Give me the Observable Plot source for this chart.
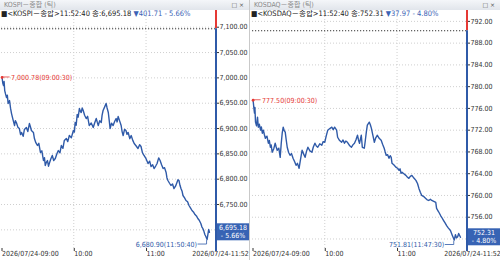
<!DOCTYPE html>
<html><head><meta charset="utf-8">
<script src="https://cdn.jsdelivr.net/npm/d3@7"></script>
<script src="https://cdn.jsdelivr.net/npm/@observablehq/plot@0.6"></script>
<style>
html,body{margin:0;padding:0;background:#fff;}
body{width:500px;height:260px;overflow:hidden;font-family:"Liberation Sans Narrow","DejaVu Sans Condensed","Noto Sans CJK KR",sans-serif;}
#wrap{display:flex;width:500px;height:260px;}
.panel{position:relative;height:260px;overflow:hidden;}
#p0{width:249px;border-right:1px solid #c9c9c9;}
#p1{width:250px;}
.tbar{position:absolute;left:0;top:0;right:0;height:10px;background:linear-gradient(#f4f6f9,#e1e5eb);z-index:3;}
.tbar .tt{position:absolute;left:4px;top:0;font-size:7px;line-height:10px;color:#8a8a8a;white-space:nowrap;}
.tbar .ic{position:absolute;right:5px;top:0;font-family:"DejaVu Sans",sans-serif;font-size:6px;line-height:10px;color:#555;white-space:nowrap;}
.info{position:absolute;left:1px;top:10px;font-size:7.5px;line-height:8px;color:#222;white-space:nowrap;z-index:2;}
.info .dn{color:#3b63b5;}
svg{display:block;}
</style></head>
<body>
<div id="wrap">
  <div class="panel" id="p0"></div>
  <div class="panel" id="p1"></div>
</div>
<script>
// ---------- data ----------
const kospiTimes = ["09:00:30","09:01:00","09:01:40","09:02:10","09:02:40","09:03:20","09:04:10","09:04:50","09:05:30","09:06:40",
"09:07:30","09:08:20","09:09:30","09:10:50","09:11:30","09:12:20","09:13:40","09:14:50","09:15:50","09:16:40",
"09:18:00","09:19:00","09:20:40","09:21:50","09:23:10","09:24:00","09:24:50","09:26:30","09:27:20","09:28:30",
"09:29:50","09:31:00","09:32:20","09:33:30","09:34:50","09:35:40","09:36:20","09:37:20","09:38:10","09:39:00",
"09:39:40","09:41:00","09:42:10","09:43:20","09:44:40","09:46:00","09:47:10","09:48:30","09:49:40","09:51:00",
"09:52:10","09:53:50","09:55:00","09:56:20","09:58:00","09:59:40","10:00:30","10:01:10","10:02:00","10:02:50",
"10:03:40","10:04:40","10:05:30","10:06:10","10:07:00","10:07:50","10:09:00","10:10:20","10:11:30","10:12:50",
"10:14:30","10:16:10","10:17:20","10:18:40","10:19:30","10:20:20","10:21:30","10:22:50","10:23:30","10:24:20",
"10:25:40","10:26:50","10:27:40","10:28:40","10:29:20","10:30:10","10:31:20","10:32:40","10:34:00","10:35:10",
"10:36:00","10:36:50","10:38:00","10:39:20","10:40:10","10:41:00","10:42:10","10:43:20","10:44:10","10:45:10",
"10:46:30","10:47:40","10:49:00","10:50:10","10:51:40","10:53:20","10:54:40","10:55:50","10:57:00","10:58:20",
"11:00:00","11:01:40","11:03:00","11:04:10","11:05:30","11:06:40","11:08:00","11:09:10","11:10:30","11:11:40",
"11:13:00","11:14:10","11:15:20","11:16:40","11:17:20","11:18:10","11:19:30","11:20:40","11:22:00","11:23:10",
"11:24:30","11:25:40","11:26:30","11:27:20","11:28:10","11:29:00","11:30:00","11:30:40","11:32:00","11:33:10",
"11:34:30","11:35:40","11:37:00","11:38:10","11:39:20","11:40:40","11:41:50","11:43:00","11:44:10","11:45:30",
"11:46:20","11:47:10","11:48:00","11:48:50","11:49:50","11:50:40","11:51:20","11:52:00","11:52:40"];
const kospiValues = [7000.78,6990.5,6984.9,6993.0,6975.0,6968.4,6961.2,6966.0,6949.4,6955.3,
6940.2,6929.6,6918.0,6905.9,6915.5,6911.9,6902.3,6900.0,6888.0,6892.2,
6884.6,6898.1,6902.0,6894.0,6909.9,6903.5,6896.1,6892.2,6880.3,6872.0,
6866.5,6870.8,6852.7,6856.0,6836.9,6842.5,6827.0,6833.8,6836.9,6825.6,
6831.0,6840.2,6846.8,6837.0,6840.8,6850.3,6856.6,6852.0,6866.5,6861.0,
6876.4,6880.3,6874.2,6886.2,6882.0,6896.1,6893.0,6911.9,6906.5,6927.7,
6922.4,6939.5,6934.0,6931.6,6940.5,6935.6,6926.3,6919.8,6924.1,6906.0,
6910.8,6902.0,6911.0,6919.8,6912.6,6906.0,6915.2,6911.9,6926.0,6935.6,
6942.8,6949.4,6940.6,6931.6,6918.0,6900.0,6910.4,6906.0,6914.3,6919.8,
6913.0,6923.7,6915.6,6906.0,6893.5,6886.2,6898.4,6896.1,6888.7,6892.2,
6880.0,6886.2,6876.6,6870.4,6866.0,6860.6,6868.2,6864.5,6852.4,6846.8,
6840.5,6831.0,6835.6,6825.1,6828.4,6821.1,6826.0,6831.0,6842.0,6836.9,
6828.0,6821.1,6822.8,6813.2,6803.0,6797.4,6792.0,6787.6,6790.4,6781.6,
6786.2,6793.5,6799.0,6797.4,6788.0,6781.6,6775.5,6767.8,6763.0,6758.0,
6755.4,6748.1,6742.7,6738.2,6735.4,6730.3,6727.5,6722.4,6719.0,6712.5,
6706.0,6702.7,6697.5,6690.8,6686.0,6680.90,6690.8,6700.7,6695.18];

const kosdaqTimes = ["09:00:30","09:01:10","09:01:40","09:02:00","09:02:30","09:03:20","09:04:10","09:04:50","09:05:40","09:06:40",
"09:07:20","09:08:10","09:09:00","09:09:50","09:10:40","09:12:00","09:13:10","09:14:00","09:14:50","09:15:30",
"09:16:20","09:17:40","09:18:50","09:19:40","09:20:30","09:21:50","09:23:00","09:23:50","09:24:40","09:25:30",
"09:26:20","09:27:10","09:28:00","09:28:50","09:30:00","09:31:10","09:32:20","09:33:40","09:35:00","09:36:10",
"09:37:20","09:38:40","09:39:50","09:41:10","09:42:30","09:43:40","09:44:50","09:46:00","09:47:40","09:49:20",
"09:50:30","09:51:50","09:53:00","09:54:10","09:55:50","09:57:30","09:58:40","10:00:00","10:01:10","10:02:30",
"10:04:10","10:05:50","10:07:00","10:08:10","10:09:50","10:10:40","10:12:20","10:14:00","10:15:10","10:16:20",
"10:17:30","10:18:50","10:20:30","10:22:10","10:23:20","10:24:40","10:26:00","10:27:10","10:28:00","10:28:50",
"10:30:20","10:31:10","10:32:50","10:33:40","10:34:30","10:35:20","10:37:00","10:37:50","10:38:40","10:40:00",
"10:41:10","10:42:20","10:43:40","10:45:10","10:46:50","10:48:00","10:49:20","10:50:10","10:51:00","10:52:10",
"10:53:20","10:54:20","10:55:10","10:55:50","10:57:30","10:59:10","11:00:30","11:01:40","11:02:30","11:03:20",
"11:04:10","11:05:40","11:07:20","11:08:30","11:09:50","11:11:00","11:12:20","11:14:00","11:15:40","11:17:00",
"11:18:10","11:19:20","11:20:30","11:22:10","11:23:50","11:25:00","11:26:20","11:27:40","11:28:50","11:30:30",
"11:32:10","11:32:50","11:34:30","11:36:10","11:37:20","11:38:40","11:40:00","11:41:10","11:42:40","11:44:20",
"11:45:50","11:47:30","11:48:30","11:49:20","11:50:20","11:51:10","11:52:40"];
const kosdaqValues = [777.50,776.06,775.13,776.2,773.47,772.8,774.39,772.55,773.1,772.00,
772.6,771.44,772.00,771.2,770.52,770.9,769.60,770.1,768.86,769.3,
767.94,768.6,769.60,768.9,768.31,768.7,767.01,769.5,771.44,772.55,
771.9,771.63,770.2,768.86,767.9,767.38,767.7,766.83,766.2,765.54,
765.9,764.99,766.6,768.31,767.6,767.01,768.1,768.86,768.2,767.94,
768.9,769.60,769.1,768.86,769.5,769.23,769.9,769.78,770.9,772.00,
772.3,772.55,772.1,772.55,772.00,770.70,770.1,769.78,770.2,769.60,
770.0,769.78,769.2,768.86,769.3,769.60,770.3,771.07,770.2,769.60,
771.07,768.86,768.68,770.1,771.63,772.92,773.47,773.0,772.37,771.0,
769.78,770.6,771.07,770.5,770.15,769.4,768.68,768.0,767.38,767.5,
766.83,767.3,767.01,765.91,765.6,765.17,765.0,764.62,764.9,764.06,
764.25,764.0,763.69,763.4,763.14,763.5,763.69,763.2,762.77,762.2,
761.30,760.6,760.00,759.8,759.45,759.2,759.08,759.3,759.08,758.9,
758.71,757.61,757.0,756.31,755.9,755.39,754.9,754.47,754.0,753.55,
752.7,751.81,752.80,752.2,752.40,753.00,752.31];

const kospiPrevClose = 7096.89;
const kosdaqPrevClose = 790.28;
const kospiGridTicks = [6700,6750,6800,6850,6900,6950,7000,7050,7100];
const kospiLabelTicks = [6750,6800,6850,6900,6950,7000,7050,7100];
const kosdaqGridTicks = [752,756,760,764,768,772,776,780,784,788,792];
const kosdaqLabelTicks = [756,760,764,768,772,776,780,784,788,792];
const xTickTimes = ["09:00:00","10:00:00","11:00:00"];
const xTickLabels = ["2026/07/24-09:00","10:00","11:00"];
const lastTimeLabel = "2026/07/24-11:52";
const sessionStart = "09:00:00";
const sessionViewEnd = "11:58:30";
const titles = ["KOSPI－종합 (틱)","KOSDAQ－종합 (틱)"];
const infoMain = ["■<KOSPI－종합>11:52:40 종:6,695.18 ","■<KOSDAQ－종합>11:52:40 종:752.31 "];
const infoChange = ["▼401.71  - 5.66%","▼37.97  - 4.80%"];
const boxLines = [["6,695.18","- 5.66%"],["752.31","- 4.80%"]];

// ---------- helpers ----------
const toDate = s => { const [h,m,sec] = s.split(":").map(Number); return new Date(Date.UTC(2026,6,24,h,m,sec)); };
const RED = "#e53935", BLUE = "#2f5aa8", BOXBLUE = "#3763b4";
const FONT = '"Liberation Sans Narrow","DejaVu Sans Condensed","Noto Sans CJK KR",sans-serif';

function span(parent, cls, txt) {
  const s = document.createElement("span");
  if (cls) s.className = cls;
  s.textContent = txt;
  parent.appendChild(s);
  return s;
}

function panel(el, idx, cfg) {
  const rows = cfg.times.map((t,i) => ({t: toDate(t), v: cfg.values[i]}));
  const maxRow = rows.reduce((a,b) => b.v > a.v ? b : a);
  const minRow = rows.reduce((a,b) => b.v < a.v ? b : a);
  const last = rows[rows.length-1];
  const fmt = d3.format(",.2f");
  const hms = d3.utcFormat("%H:%M:%S");
  const xTicks = xTickTimes.map(toDate);

  const title = document.createElement("div");
  title.className = "tbar";
  span(title, "tt", titles[idx]);
  span(title, "ic", "□ ×");
  el.appendChild(title);
  const info = document.createElement("div");
  info.className = "info";
  span(info, null, infoMain[idx]);
  span(info, "dn", infoChange[idx]);
  el.appendChild(info);

  const decor = (index, scales, values, dims) => {
    const g = d3.create("svg:g");
    const xr = dims.width - dims.marginRight;
    const yp = scales.y(cfg.prevClose);
    g.append("line").attr("x1", xr).attr("x2", xr).attr("y1", 0).attr("y2", yp)
      .attr("stroke", RED).attr("stroke-width", 2);
    g.append("line").attr("x1", xr).attr("x2", xr).attr("y1", yp).attr("y2", dims.height - 9)
      .attr("stroke", BLUE).attr("stroke-width", 2);
    const mx = scales.x(maxRow.t), my = scales.y(maxRow.v);
    g.append("line").attr("x1", mx).attr("x2", mx + 8).attr("y1", my).attr("y2", my)
      .attr("stroke", RED).attr("stroke-width", 0.8);
    const nx = scales.x(minRow.t), ny = scales.y(minRow.v);
    g.append("path").attr("d", `M${nx-9},${ny+5}H${nx}V${ny+1}`)
      .attr("fill", "none").attr("stroke", BLUE).attr("stroke-width", 0.8);
    const ly = scales.y(last.v);
    g.append("rect").attr("x", xr + 1).attr("y", ly - 8.5).attr("width", 32).attr("height", 17)
      .attr("fill", BOXBLUE);
    boxLines[idx].forEach((s, k) => {
      g.append("text").attr("x", xr + 17).attr("y", ly - 1.5 + k * 7.5)
        .attr("text-anchor", "middle").attr("fill", "#fff").attr("font-size", 7)
        .attr("font-family", FONT).text(s);
    });
    return g.node();
  };

  const plot = Plot.plot({
    width: cfg.width, height: 250,
    marginTop: 0, marginBottom: 12, marginLeft: cfg.marginLeft, marginRight: cfg.marginRight,
    style: {fontFamily: FONT, fontSize: "7px", color: "#333", background: "transparent", overflow: "visible"},
    x: {type: "utc", domain: [toDate(sessionStart), toDate(sessionViewEnd)], axis: null, label: null},
    y: {domain: cfg.yDomain, axis: null, label: null},
    marks: [
      Plot.ruleY(cfg.gridTicks, {stroke: "#cfcfcf", strokeDasharray: "1,2"}),
      Plot.ruleX(xTicks.slice(1), {stroke: "#cfcfcf", strokeDasharray: "1,2"}),
      Plot.ruleY([cfg.prevClose], {stroke: "#333", strokeDasharray: "1.2,1.8"}),
      Plot.line(rows, {x: "t", y: "v", stroke: BLUE, strokeWidth: 1.4}),
      Plot.dot([maxRow], {x: "t", y: "v", r: 1.4, fill: RED, stroke: null}),
      Plot.text([maxRow], {x: "t", y: "v", text: d => `${fmt(d.v)}(${hms(d.t)})`, textAnchor: "start", dx: 9, fill: RED, fontSize: 7}),
      Plot.text([minRow], {x: "t", y: "v", text: d => `${fmt(d.v)}(${hms(d.t)})`, textAnchor: "end", dx: -10, dy: 5, fill: BLUE, fontSize: 7}),
      Plot.axisY({anchor: "right", label: null, ticks: cfg.labelTicks, tickFormat: fmt, tickSize: 2, tickPadding: 1, fontSize: 7, fill: "#333"}),
      Plot.axisX({label: null, ticks: xTicks, tickFormat: (d, i) => xTickLabels[i], tickSize: 3, tickPadding: 0, textAnchor: "start", dx: 0.5, fontSize: 7, fill: "#333"}),
      Plot.text([lastTimeLabel], {frameAnchor: "bottom-right", text: d => d, textAnchor: "middle", lineAnchor: "top", dy: 3, dx: cfg.lastDx, fontSize: 7, fill: "#333"}),
      decor
    ]
  });
  plot.style.position = "absolute";
  plot.style.left = "0px";
  plot.style.top = "10px";
  el.appendChild(plot);
}

panel(document.getElementById("p0"), 0, {
  times: kospiTimes, values: kospiValues, prevClose: kospiPrevClose,
  gridTicks: kospiGridTicks, labelTicks: kospiLabelTicks,
  yDomain: [6663.2, 7133], width: 249, marginLeft: 1, marginRight: 33, lastDx: 4
});
panel(document.getElementById("p1"), 1, {
  times: kosdaqTimes, values: kosdaqValues, prevClose: kosdaqPrevClose,
  gridTicks: kosdaqGridTicks, labelTicks: kosdaqLabelTicks,
  yDomain: [750.25, 794.0], width: 250, marginLeft: 2, marginRight: 33, lastDx: 5
});
</script>
</body></html>
